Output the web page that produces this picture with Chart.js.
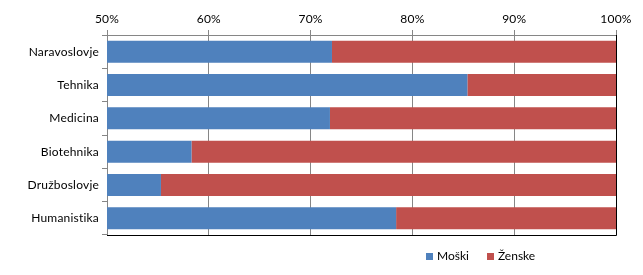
<!DOCTYPE html>
<html>
<head>
<meta charset="utf-8">
<script src="https://cdn.jsdelivr.net/npm/chart.js@4/dist/chart.umd.min.js"></script>
<style>
  html, body { margin: 0; padding: 0; background: #fff; }
  #wrap { position: relative; width: 643px; height: 275px; }
  #legend { position: absolute; top: 248px; left: 426px; font: 12px Lato, sans-serif; color: #000; white-space: nowrap; font-variant-ligatures: none; }
  #legend span.box { display: inline-block; width: 7px; height: 7px; margin-right: 4px; }
  #legend span.item { margin-right: 18px; }
</style>
</head>
<body>
<div id="wrap">
  <canvas id="chart" width="643" height="275"></canvas>
  <div id="legend"></div>
</div>
<script>
const categories = ['Naravoslovje', 'Tehnika', 'Medicina', 'Biotehnika', 'Družboslovje', 'Humanistika'];
const moski = [72.1, 85.4, 71.9, 58.3, 55.3, 78.4];
const zenske = [27.9, 14.6, 28.1, 41.7, 44.7, 21.6];
const seriesNames = ['Moški', 'Ženske'];
const seriesColors = ['#4F81BD', '#C0504D'];

// brez ligatur (ti) v Lato
const noLigatures = {
  id: 'noLigatures',
  beforeUpdate(chart) { chart.ctx.letterSpacing = '0.2px'; },
  beforeDraw(chart) { chart.ctx.letterSpacing = '0.2px'; }
};

// okvir desno in spodaj
const frame = {
  id: 'frame',
  afterDraw(chart) {
    const a = chart.chartArea;
    const ctx = chart.ctx;
    ctx.save();
    ctx.strokeStyle = '#000';
    ctx.lineWidth = 1;
    ctx.beginPath();
    ctx.moveTo(Math.round(a.right) + 0.5, a.top);
    ctx.lineTo(Math.round(a.right) + 0.5, Math.round(a.bottom) + 0.5);
    ctx.lineTo(a.left, Math.round(a.bottom) + 0.5);
    ctx.stroke();
    ctx.restore();
  }
};

const ctx = document.getElementById('chart').getContext('2d');

new Chart(ctx, {
  type: 'bar',
  data: {
    labels: categories,
    datasets: [
      { label: seriesNames[0], data: moski, backgroundColor: seriesColors[0], barPercentage: 0.66, categoryPercentage: 1 },
      { label: seriesNames[1], data: zenske, backgroundColor: seriesColors[1], barPercentage: 0.66, categoryPercentage: 1 }
    ]
  },
  options: {
    indexAxis: 'y',
    responsive: false,
    animation: false,
    layout: { padding: { top: 0, right: 27, bottom: 40, left: 0 } },
    plugins: {
      legend: { display: false },
      tooltip: { enabled: false }
    },
    scales: {
      x: {
        position: 'top',
        stacked: true,
        min: 50,
        max: 100,
        afterFit(scale) { scale.height = 35; },
        ticks: {
          stepSize: 10,
          padding: 4,
          color: '#000',
          font: { family: 'Lato', size: 12 },
          callback: v => v + '%'
        },
        grid: { color: '#868686', tickLength: 5 },
        border: { color: '#868686' }
      },
      y: {
        stacked: true,
        afterFit(scale) { scale.width = 107; },
        ticks: {
          padding: 3,
          color: '#000',
          font: { family: 'Lato', size: 12 }
        },
        grid: { offset: true, drawOnChartArea: false, color: '#868686', tickLength: 5 },
        border: { color: '#868686' }
      }
    }
  },
  plugins: [noLigatures, frame]
});

document.getElementById('legend').innerHTML = seriesNames.map((name, i) =>
  `<span class="item"><span class="box" style="background:${seriesColors[i]}"></span>${name}</span>`
).join('');
</script>
</body>
</html>
